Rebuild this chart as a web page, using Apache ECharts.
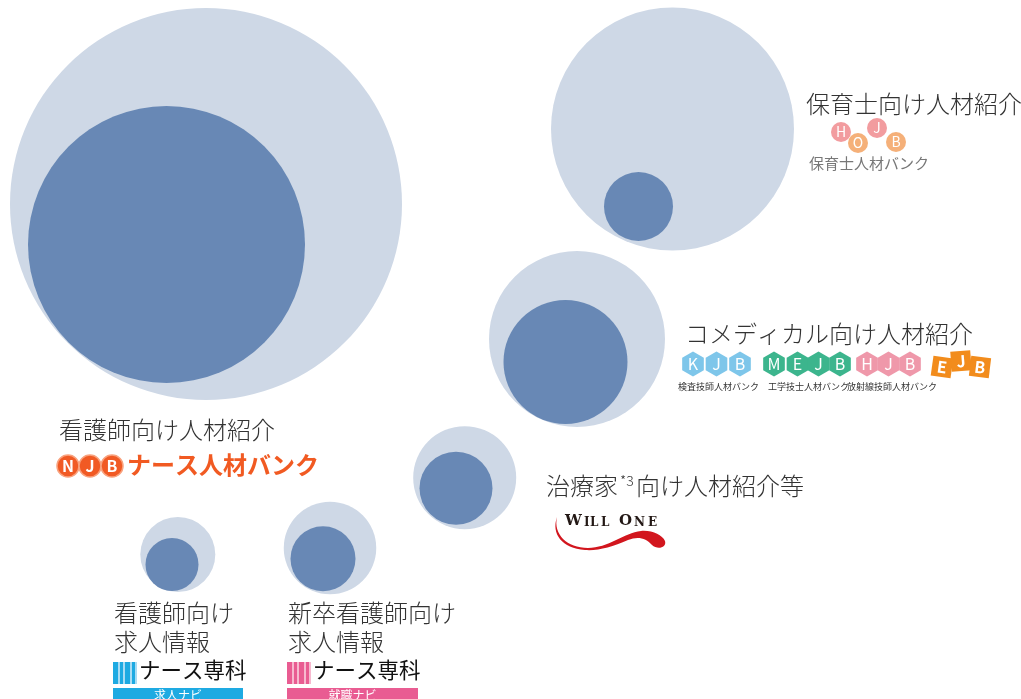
<!DOCTYPE html>
<html>
<head>
<meta charset="utf-8">
<script src="https://cdn.jsdelivr.net/npm/echarts@6/dist/echarts.min.js"></script>
<style>
  html, body { margin: 0; padding: 0; background: #fff; }
  #chart { width: 1021px; height: 699px; }
</style>
</head>
<body>
<div id="chart"></div>
<script>
// 事業ごとの円（外側：市場規模、内側：実績）
const groups = ['看護師向け人材紹介', '保育士向け人材紹介', 'コメディカル向け人材紹介', '治療家向け人材紹介等', '看護師向け求人情報', '新卒看護師向け求人情報'];
const outerX = [206, 672.5, 577, 464.7, 177.8, 330];
const outerY = [204, 129, 339, 477.7, 554.5, 548];
const outerSize = [392, 243, 176, 103, 75, 92.5];
const innerX = [166.5, 638.5, 565.5, 456, 172, 323];
const innerY = [244.5, 206.5, 362, 488.3, 564.5, 558.7];
const innerSize = [277, 69, 124, 73, 53, 65];

const FONT = '"Noto Sans CJK JP", "Noto Sans CJK SC", sans-serif';

// WILL ONE のロゴの赤い曲線
const Swoosh = echarts.graphic.extendPath(
    'M557,517 C553,534 567,548 588,548 C608,548 624,533 641,531 C652,530 662,535 665,541 C667,548 657,550 652,545 C646,538 638,536 628,540 C612,547 598,551 585,550 C562,548 551,534 557,517 Z'
);
echarts.graphic.registerShape('swoosh', Swoosh);

const chart = echarts.init(document.getElementById('chart'));

function txt(x, y, s, size, color, weight, align, valign) {
    return {
        type: 'text', x: x, y: y, silent: true,
        style: {
            text: s, fill: color,
            font: (weight || 'normal') + ' ' + size + 'px ' + FONT,
            textAlign: align || 'left', align: align || 'left',
            textVerticalAlign: valign || 'top', verticalAlign: valign || 'top'
        }
    };
}

function circle(cx, cy, r, fill, stroke) {
    return { type: 'circle', silent: true, shape: { cx: cx, cy: cy, r: r },
        style: { fill: fill, stroke: stroke || null, lineWidth: stroke ? 1.5 : 0 } };
}

function hex(cx, cy, R, fill) {
    const pts = [];
    for (let k = 0; k < 6; k++) {
        const a = (-90 + 60 * k) * Math.PI / 180;
        pts.push([cx + R * Math.cos(a), cy + R * Math.sin(a)]);
    }
    return { type: 'polygon', silent: true, shape: { points: pts }, style: { fill: fill } };
}

const g = [];

// 見出し
const LABEL = '#333';
g.push(txt(59, 418, '看護師向け人材紹介', 24, LABEL, 300));
g.push(txt(806, 92, '保育士向け人材紹介', 24, LABEL, 300));
g.push(txt(685, 322, 'コメディカル向け人材紹介', 24, LABEL, 300));
g.push(txt(546, 474, '治療家', 24, LABEL, 300));
g.push(txt(620, 474, '*3', 14, LABEL, 300));
g.push(txt(636, 474, '向け人材紹介等', 24, LABEL, 300));
g.push(txt(114, 601, '看護師向け', 24, LABEL, 300));
g.push(txt(114, 630, '求人情報', 24, LABEL, 300));
g.push(txt(288, 601, '新卒看護師向け', 24, LABEL, 300));
g.push(txt(288, 630, '求人情報', 24, LABEL, 300));

// NJB ナース人材バンク
[['N', 68], ['J', 90], ['B', 112]].forEach(function (d) {
    g.push(circle(d[1], 466, 11, '#F15A24', '#F9A27E'));
    g.push(txt(d[1], 466, d[0], 16, '#fff', 'bold', 'center', 'middle'));
});
g.push(txt(127, 453, 'ナース人材バンク', 24, '#F15A22', 'bold'));

// HOJB 保育士人材バンク
[['H', 841, 132, '#F29C9F'], ['O', 858, 143, '#F5B079'], ['J', 877, 128, '#F29C9F'], ['B', 896, 142, '#F5B079']].forEach(function (d) {
    g.push(circle(d[1], d[2], 10, d[3]));
    g.push(txt(d[1], d[2], d[0], 14, '#fff', 'normal', 'center', 'middle'));
});
g.push(txt(809, 156, '保育士人材バンク', 15, '#777'));

// KJB / MEJB / HJB / EJB
const hexRows = [
    [['K', 693], ['J', 716.5], ['B', 740], '#7EC6EA'],
    [['M', 774], ['E', 797.5], ['J', 818.5], ['B', 840], '#3CB58D'],
    [['H', 867], ['J', 888.5], ['B', 910], '#EF98AA']
];
hexRows.forEach(function (row) {
    const color = row[row.length - 1];
    row.slice(0, -1).forEach(function (d) {
        g.push(hex(d[1], 364, 12.5, color));
        g.push(txt(d[1], 364, d[0], 16, '#fff', 'normal', 'center', 'middle'));
    });
});
[['E', 942, 367, -0.14], ['J', 961, 361, 0.08], ['B', 980, 367, -0.12]].forEach(function (d) {
    g.push({ type: 'rect', silent: true, x: d[1], y: d[2], rotation: d[3],
        shape: { x: -10, y: -10, width: 20, height: 20 }, style: { fill: '#F28C1C' } });
    g.push({ type: 'text', silent: true, x: d[1], y: d[2], rotation: d[3],
        style: { text: d[0], fill: '#fff', font: 'bold 16px ' + FONT, textAlign: 'center', align: 'center', textVerticalAlign: 'middle', verticalAlign: 'middle' } });
});
g.push(txt(678, 382, '検査技師人材バンク', 9, '#333'));
g.push(txt(768, 382, '工学技士人材バンク', 9, '#333'));
g.push(txt(847, 382, '放射線技師人材バンク', 9, '#333'));

// WILL ONE
g.push({ type: 'swoosh', silent: true, style: { fill: '#D2161E' } });
[['W', 565, 15], ['I', 584, 12], ['L', 590, 12], ['L', 601, 12], ['O', 619, 15], ['N', 634, 12], ['E', 648, 12]].forEach(function (d) {
    g.push({ type: 'text', silent: true, x: d[1], y: 529,
        style: { text: d[0], fill: '#231815', font: 'bold ' + d[2] + 'px "DejaVu Serif", serif', textAlign: 'left', align: 'left', textVerticalAlign: 'bottom', verticalAlign: 'bottom' } });
});

// ナース専科
function senka(x0, w, dark, light, sub) {
    g.push({ type: 'rect', silent: true, shape: { x: x0, y: 662, width: 24, height: 22 }, style: { fill: light } });
    [[0, 5], [7, 3], [12, 5], [19, 3]].forEach(function (s) {
        g.push({ type: 'rect', silent: true, shape: { x: x0 + s[0], y: 662, width: s[1], height: 22 }, style: { fill: dark } });
    });
    g.push(txt(x0 + 26, 659, 'ナース専科', 21.5, '#111'));
    g.push({ type: 'rect', silent: true, shape: { x: x0, y: 688, width: w, height: 12 }, style: { fill: dark } });
    g.push(txt(x0 + w / 2, 695, sub, 12, '#fff', 'normal', 'center', 'middle'));
}
senka(113, 130, '#1EAAE2', '#A9DCF4', '求人ナビ');
senka(287, 131, '#E95C92', '#F7B9CF', '就職ナビ');

const option = {
    animation: false,
    grid: { left: 0, right: 0, top: 0, bottom: 0 },
    xAxis: { type: 'value', min: 0, max: 1021, show: false },
    yAxis: { type: 'value', min: 0, max: 699, inverse: true, show: false },
    series: [
        {
            name: '外側', type: 'scatter', silent: true, symbol: 'circle',
            itemStyle: { color: '#CED8E6', opacity: 1 },
            symbolSize: function (v) { return v[2]; },
            data: groups.map(function (n, i) { return { name: n, value: [outerX[i], outerY[i], outerSize[i]] }; })
        },
        {
            name: '内側', type: 'scatter', silent: true, symbol: 'circle',
            itemStyle: { color: '#6888B5', opacity: 1 },
            symbolSize: function (v) { return v[2]; },
            data: groups.map(function (n, i) { return { name: n, value: [innerX[i], innerY[i], innerSize[i]] }; })
        }
    ],
    graphic: { elements: g }
};

chart.setOption(option);
window.addEventListener('resize', function () { chart.resize(); });
</script>
</body>
</html>
